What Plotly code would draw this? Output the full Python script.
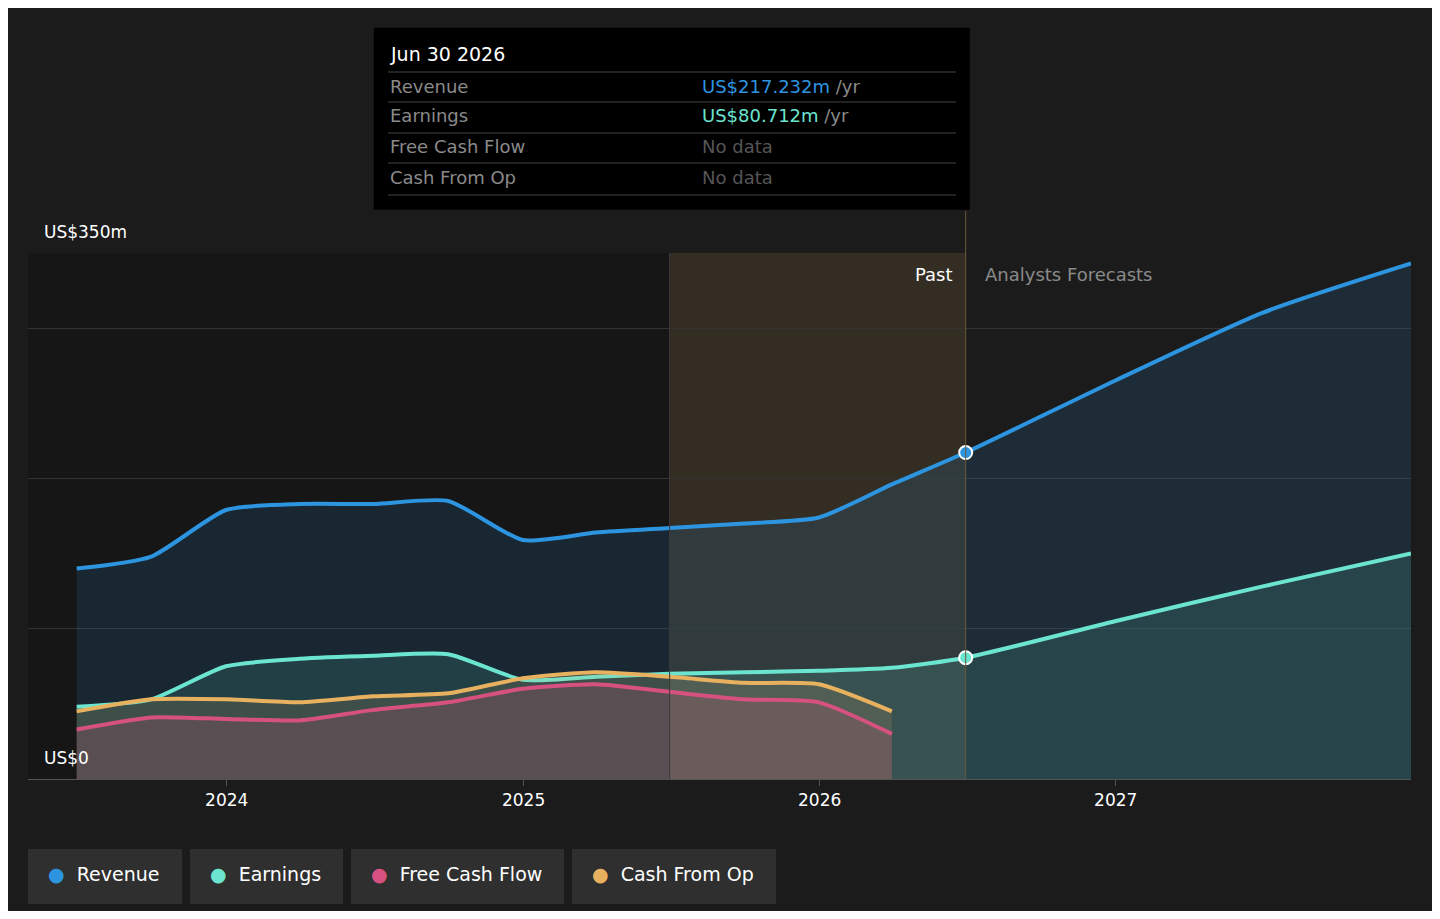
import plotly.graph_objects as go

# quarterly points, forecasts after Jun 2026
dates = ["2023-06-30", "2023-09-30", "2023-12-31", "2024-03-31", "2024-06-30", "2024-09-30",
         "2024-12-31", "2025-03-31", "2025-06-30", "2025-09-30", "2025-12-31", "2026-03-31",
         "2026-06-30", "2026-12-31", "2027-06-30", "2027-12-31"]
revenue = [140, 148, 179, 183, 183, 185, 159, 164, 167, 170, 174, 196, 217.232, 265, 310, 343]
earnings = [48, 53, 75, 80, 82, 83, 66, 68, 70, 71, 72, 74, 80.712, 105, 128, 150]
fcf_dates = dates[:12]
fcf = [33, 41, 40, 39, 46, 51, 60, 63, 58, 53, 51, 30]
cfo = [45, 53, 53, 51, 55, 57, 67, 71, 68, 64, 63, 45]

C_REV, C_EARN, C_FCF, C_CFO = "#2d95e0", "#6ce5d0", "#d6517f", "#e8b160"
FONT = "DejaVu Sans"

fig = go.Figure()
for name, x, y, c, fc in [
    ("Revenue", dates, revenue, C_REV, "rgba(45,149,224,0.14)"),
    ("Earnings", dates, earnings, C_EARN, "rgba(108,229,208,0.13)"),
    ("Cash From Op", fcf_dates, cfo, C_CFO, "rgba(232,177,96,0.14)"),
    ("Free Cash Flow", fcf_dates, fcf, C_FCF, "rgba(214,81,127,0.18)"),
]:
    fig.add_trace(go.Scatter(x=x, y=y, name=name, mode="lines",
                             line=dict(color=c, width=4, shape="spline", smoothing=0.6),
                             fill="tozeroy", fillcolor=fc, showlegend=False))

fig.add_trace(go.Scatter(x=["2026-06-30", "2026-06-30"], y=[217.232, 80.712], mode="markers",
                         marker=dict(size=13, color=[C_REV, C_EARN], line=dict(color="white", width=2)),
                         showlegend=False))

shapes = [
    dict(type="rect", xref="x", yref="paper", x0="2025-06-30", x1="2026-06-30", y0=0, y1=1,
         fillcolor="rgba(232,177,96,0.12)", line_width=0, layer="below"),
    dict(type="rect", xref="x", yref="paper", x0="2023-01-01", x1="2025-06-30", y0=0, y1=1,
         fillcolor="rgba(0,0,0,0.15)", line_width=0, layer="below"),
    dict(type="line", xref="x", yref="paper", x0="2025-06-30", x1="2025-06-30", y0=0, y1=1,
         line=dict(color="#3a3a3a", width=1)),
    dict(type="line", xref="x", yref="paper", x0="2026-06-30", x1="2026-06-30", y0=0, y1=1.08,
         line=dict(color="#6b5a3c", width=1)),
    # tooltip box
    dict(type="rect", xref="paper", yref="paper", x0=0.250, x1=0.681, y0=1.082, y1=1.428,
         fillcolor="black", line_width=0),
]

def px_x(p): return (p - 28) / 1383
def px_y(p): return (779 - p) / 526

for py in [72, 102, 133, 163, 195]:
    shapes.append(dict(type="line", xref="paper", yref="paper", x0=px_x(388), x1=px_x(956),
                       y0=px_y(py), y1=px_y(py), line=dict(color="#444", width=1)))

ann = []
ann.append(dict(x=px_x(388), y=px_y(54), text="Jun 30 2026", font=dict(color="white", size=19)))
rows = [("Revenue", "<span style='color:%s'>US$217.232m</span> /yr" % C_REV, 86),
        ("Earnings", "<span style='color:%s'>US$80.712m</span> /yr" % C_EARN, 116),
        ("Free Cash Flow", "<span style='color:#555'>No data</span>", 147),
        ("Cash From Op", "<span style='color:#555'>No data</span>", 177)]
for lab, val, py in rows:
    ann.append(dict(x=px_x(388), y=px_y(py), text=lab, font=dict(color="#8a8a8a", size=18)))
    ann.append(dict(x=px_x(700), y=px_y(py), text=val, font=dict(color="#8a8a8a", size=18)))
ann.append(dict(x=px_x(42), y=px_y(232), text="US$350m", font=dict(color="white", size=17)))
ann.append(dict(x=px_x(42), y=px_y(758), text="US$0", font=dict(color="white", size=17)))
ann.append(dict(x=px_x(955), y=px_y(274), text="Past", xanchor="right", font=dict(color="white", size=18)))
ann.append(dict(x=px_x(983), y=px_y(274), text="Analysts Forecasts", font=dict(color="#8a8a8a", size=18)))

legend = [("Revenue", C_REV, 28, 182), ("Earnings", C_EARN, 190, 343),
          ("Free Cash Flow", C_FCF, 351, 564), ("Cash From Op", C_CFO, 572, 776)]
for lab, c, a, b in legend:
    shapes.append(dict(type="rect", xref="paper", yref="paper", x0=px_x(a), x1=px_x(b),
                       y0=px_y(904), y1=px_y(849), fillcolor="#2f2f2f", line_width=0))
    ann.append(dict(x=px_x(a + 18), y=px_y(874), text="<span style='color:%s'>●</span>  %s" % (c, lab),
                    font=dict(color="white", size=19)))

for a_ in ann:
    a_.update(xref="paper", yref="paper", showarrow=False,
              yanchor="middle", xanchor=a_.get("xanchor", "left"))
    a_["font"]["family"] = FONT

# page has an 8px body margin, so shrink the figure to fit the window
fig.update_layout(
    width=1424, height=903, paper_bgcolor="#1b1b1b", plot_bgcolor="#1b1b1b",
    margin=dict(l=20, r=21, t=245, b=132),
    font=dict(family=FONT, color="white"),
    shapes=shapes, annotations=ann, hovermode=False,
    xaxis=dict(range=["2023-05-01", "2027-12-31"], tickvals=["2024-01-01", "2025-01-01", "2026-01-01", "2027-01-01"],
               ticktext=["2024", "2025", "2026", "2027"], showgrid=False, ticks="outside", ticklen=6,
               tickcolor="#555", showline=True, linecolor="#555", tickfont=dict(size=17, color="white")),
    yaxis=dict(range=[0, 350], tickvals=[0, 100, 200, 300, 350], showticklabels=False,
               gridcolor="#333", zeroline=False),
)
fig.write_html("out.html")
